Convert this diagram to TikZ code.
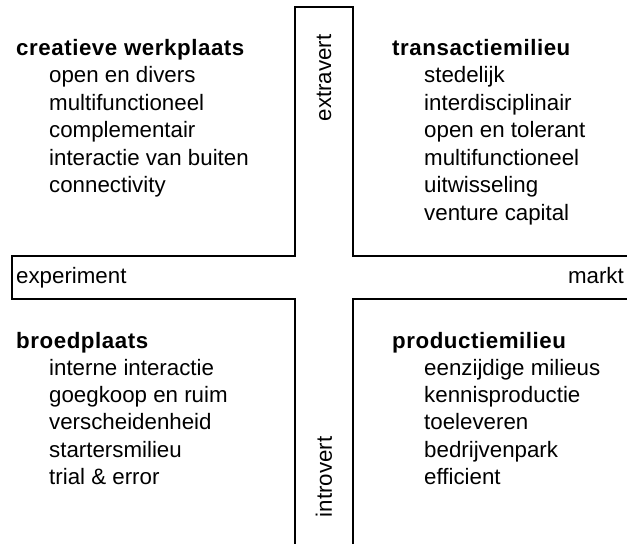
\documentclass[tikz,border=0pt]{standalone}
\usepackage{fontspec}
\setmainfont{Liberation Sans}
\usepackage{tikz}
\usetikzlibrary{positioning}

\tikzset{
  txt/.style={inner sep=0pt,font=\fontsize{22.3}{27.5}\selectfont},
  head/.style={txt,anchor=base west,font=\fontsize{22.3}{27.5}\selectfont\bfseries\addfontfeature{LetterSpace=2.5}},
  item/.style={txt,anchor=base west},
  axis/.style={txt},
  bar/.style={line width=1.5pt,line join=miter}
}

\begin{document}
\begin{tikzpicture}[x=1pt,y=-1pt]
\useasboundingbox (0,0) rectangle (627,544);
% the cross
\draw[bar] (627,256) -- (353,256) -- (353,7) -- (295,7) -- (295,256) -- (12,256)
   -- (12,299) -- (295,299) -- (295,544);
\draw[bar] (353,544) -- (353,299) -- (627,299);

\node(ex)[axis,rotate=90] at (324,78) {extravert};
\node(in)[axis,rotate=90] at (324,477) {introvert};
\node(exp)[axis,anchor=base west] at (16,283) {experiment};
\node(mk)[axis,anchor=base east] at (624,283) {markt};

\node(cw)[head] at (16,55) {creatieve werkplaats};
\foreach \t [count=\i] in {open en divers,multifunctioneel,complementair,interactie van buiten,connectivity}
   \node(cw-\i)[item] at ([shift={(33,27.5*\i)}]cw.base west) {\t};

\node(tm)[head] at (392,55) {transactiemilieu};
\foreach \t [count=\i] in {stedelijk,interdisciplinair,open en tolerant,multifunctioneel,uitwisseling,venture capital}
   \node(tm-\i)[item] at ([shift={(32,27.5*\i)}]tm.base west) {\t};

\node(bp)[head] at (16,348) {broedplaats};
\foreach \t [count=\i] in {interne interactie,goegkoop en ruim,verscheidenheid,startersmilieu,trial \& error}
   \node(bp-\i)[item] at ([shift={(33,27.3*\i)}]bp.base west) {\t};

\node(pm)[head] at (392,348) {productiemilieu};
\foreach \t [count=\i] in {eenzijdige milieus,kennisproductie,toeleveren,bedrijvenpark,efficient}
   \node(pm-\i)[item] at ([shift={(32,27.3*\i)}]pm.base west) {\t};

\end{tikzpicture}
\end{document}
